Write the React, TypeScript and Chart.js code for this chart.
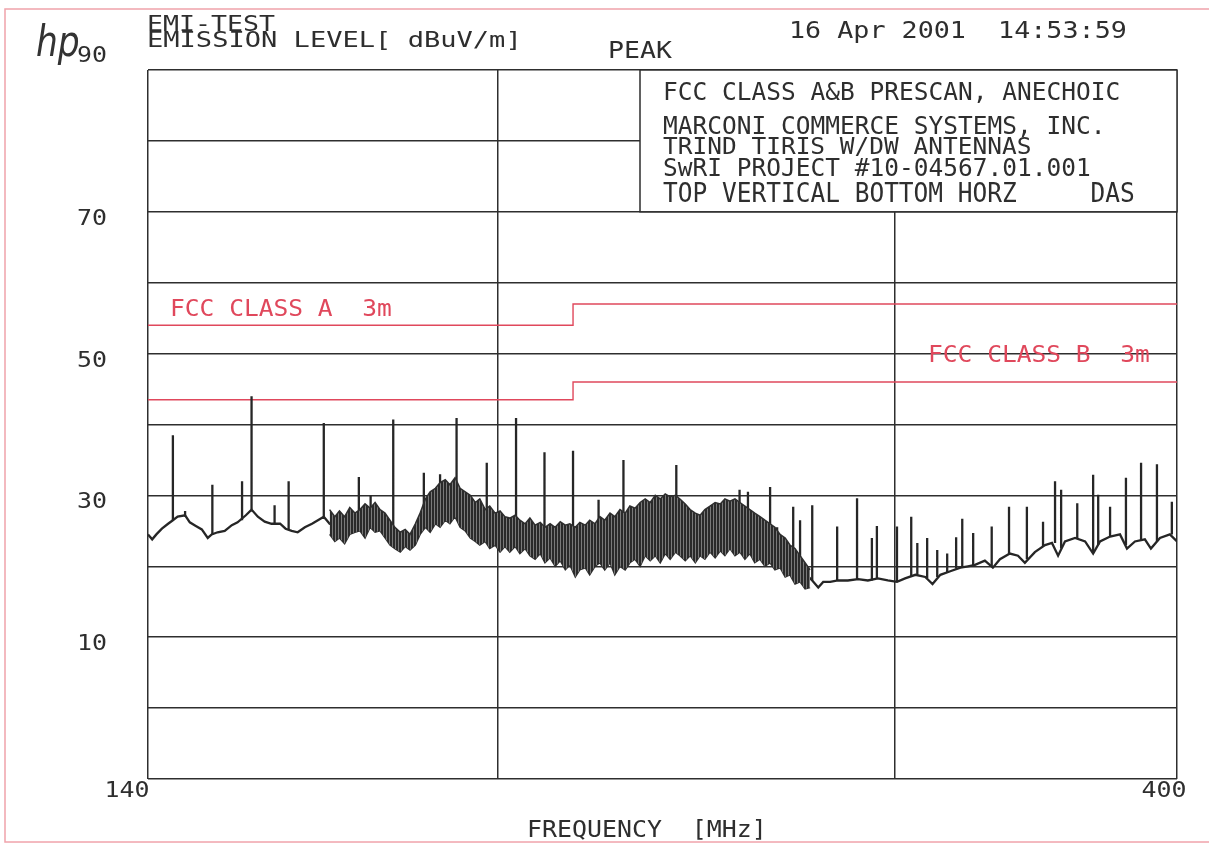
import { useEffect, useRef } from "react";
import { Chart, registerables } from "chart.js";

Chart.register(...registerables);

// ---- measured trace (MHz, dBuV/m) ----
const traceFreq = [
  140.0, 140.6, 141.2, 142.0, 142.9, 143.6, 144.3, 145.4, 146.1, 147.0, 147.9, 148.8, 149.4, 150.3, 151.4,
  152.5, 153.4, 154.7, 155.6, 156.6, 157.7, 158.8, 160.2, 161.1, 162.1, 163.1, 164.3, 165.5, 166.5, 167.5,
  168.5, 170.2, 172.0, 173.4, 174.7, 175.7, 177.0, 178.3, 179.4, 180.7, 181.8, 182.8, 183.9, 185.0, 186.7,
  188.6, 190.5, 191.8, 192.9, 194.5, 196.0, 197.8, 199.5, 201.5, 203.6, 205.7, 207.8, 209.8, 211.0, 213.2,
  215.3, 217.5, 219.7, 221.5, 223.1, 225.4, 227.8, 230.1, 232.5, 234.9, 237.3, 239.8, 242.2, 244.7, 247.1,
  249.7, 252.2, 254.8, 257.4, 260.0, 262.7, 265.4, 268.2, 270.9, 273.7, 275.7, 277.4, 278.8, 280.8, 283.0,
  285.9, 288.9, 291.8, 294.8, 297.8, 300.6, 303.1, 306.3, 309.4, 311.7, 314.2, 317.4, 320.7, 323.2, 325.5,
  328.8, 331.5, 333.9, 337.3, 340.1, 342.5, 346.0, 349.6, 352.1, 354.3, 356.8, 360.5, 364.2, 367.2, 369.8,
  373.6, 377.4, 380.1, 383.2, 387.1, 389.5, 393.1, 397.1, 400.0,
];
const traceLevel = [
  24.5, 23.8, 24.5, 25.3, 26.0, 26.5, 27.0, 27.2, 26.2, 25.7, 25.2, 24.0, 24.5, 24.8, 25.0,
  25.8, 26.2, 27.2, 28.0, 27.0, 26.3, 26.0, 26.0, 25.3, 25.0, 24.8, 25.5, 26.0, 26.5, 27.0,
  26.0, 25.5, 26.0, 26.5, 27.0, 27.8, 27.2, 26.3, 25.0, 23.5, 22.8, 23.5, 24.5, 26.5, 28.5,
  29.5, 30.5, 30.5, 29.0, 27.5, 26.5, 26.0, 25.5, 25.0, 25.0, 24.5, 24.0, 24.0, 24.0, 23.8,
  23.5, 23.5, 24.0, 24.0, 24.5, 25.0, 25.5, 25.8, 26.3, 26.5, 26.8, 27.0, 26.5, 25.5, 25.0,
  25.5, 26.0, 26.0, 25.5, 24.5, 23.5, 22.5, 21.0, 20.0, 19.0, 18.0, 17.0, 17.8, 17.8, 18.0,
  18.0, 18.2, 18.0, 18.3, 18.0, 17.8, 18.3, 18.8, 18.5, 17.5, 18.8, 19.3, 19.8, 20.0, 20.2,
  20.8, 19.8, 21.0, 21.8, 21.5, 20.5, 22.0, 23.0, 23.3, 21.5, 23.5, 24.0, 23.5, 21.8, 23.5,
  24.2, 24.5, 22.5, 23.5, 23.8, 22.5, 24.0, 24.5, 23.5,
];

// ---- dense noise band (upper / lower envelope of the hatched region) ----
const bandFreq = [
  168.5, 169.4, 170.2, 171.1, 172.0, 172.9, 173.8, 174.7, 175.6, 176.5, 177.4, 178.3, 179.2, 180.1, 181.1,
  182.0, 182.9, 183.9, 184.8, 185.8, 186.7, 187.7, 188.6, 189.6, 190.5, 191.5, 192.5, 193.5, 194.5, 195.5,
  196.4, 197.5, 198.4, 199.5, 200.5, 201.5, 202.5, 203.6, 204.6, 205.7, 206.7, 207.8, 208.9, 209.9, 211.0,
  212.1, 213.2, 214.3, 215.3, 216.5, 217.5, 218.7, 219.7, 220.9, 222.0, 223.1, 224.3, 225.4, 226.6, 227.8,
  228.9, 230.1, 231.3, 232.5, 233.7, 234.9, 236.1, 237.3, 238.5, 239.8, 240.9, 242.2, 243.4, 244.7, 245.9,
  247.1, 248.4, 249.7, 251.0, 252.2, 253.5, 254.8, 256.1, 257.4, 258.7, 260.0, 261.4, 262.7, 264.1, 265.4,
  266.8, 268.2, 269.5, 270.9, 272.3, 273.7, 275.1,
];
const bandLow = [
  24.5, 23.5, 24.0, 23.2, 24.5, 24.8, 25.0, 24.0, 25.5, 24.8, 25.0, 24.0, 23.0, 22.5, 22.0,
  22.8, 22.3, 23.0, 24.5, 25.5, 24.8, 26.0, 25.5, 26.5, 26.0, 27.0, 25.5, 25.0, 24.0, 23.5,
  23.0, 23.5, 22.5, 23.0, 22.0, 22.8, 22.0, 22.8, 21.8, 22.5, 21.5, 21.0, 21.8, 20.5, 21.2,
  20.0, 20.8, 19.5, 20.2, 18.5, 19.5, 19.8, 18.8, 20.0, 20.5, 19.5, 20.5, 18.8, 20.0, 19.5,
  20.5, 21.0, 20.0, 21.5, 20.8, 21.5, 20.5, 21.8, 21.0, 22.0, 21.5, 20.8, 21.5, 20.5, 21.5,
  21.0, 22.0, 21.2, 22.2, 21.5, 22.5, 21.5, 22.0, 21.0, 21.8, 20.5, 21.0, 20.0, 20.5, 19.5,
  19.8, 18.5, 18.8, 17.5, 17.8, 16.8, 17.0,
];
const bandHigh = [
  28.0, 27.0, 27.8, 27.0, 28.3, 27.5, 28.0, 28.8, 28.2, 29.0, 28.0, 27.5, 26.5, 25.5, 24.8,
  25.2, 24.5, 26.0, 27.5, 29.5, 30.5, 31.0, 31.8, 32.2, 31.5, 32.5, 31.0, 30.5, 30.0, 29.0,
  29.5, 28.0, 28.5, 27.5, 27.8, 27.0, 26.8, 27.2, 26.5, 26.0, 26.8, 25.8, 26.2, 25.5, 26.0,
  25.5, 26.3, 25.8, 26.0, 25.5, 26.2, 25.8, 26.5, 26.0, 27.0, 26.5, 27.5, 27.0, 28.0, 27.5,
  28.5, 28.2, 29.0, 29.5, 29.0, 30.0, 29.5, 30.2, 29.8, 30.0, 29.5, 28.8, 28.0, 27.5, 27.2,
  28.0, 28.5, 29.0, 28.8, 29.5, 29.2, 29.5, 29.0, 28.5, 28.0, 27.5, 27.0, 26.5, 26.0, 25.5,
  24.5, 24.0, 23.0, 22.5, 21.5, 20.5, 19.5,
];

// ---- narrow-band spikes ----
const spikeFreq = [
  143.6, 145.4, 149.5, 154.1, 155.6, 159.3, 161.6, 167.5, 173.6, 175.7, 179.8, 185.5, 188.6, 191.8, 197.8,
  203.8, 209.8, 216.0, 221.7, 227.4, 240.0, 256.0, 258.2, 264.1, 266.0, 270.4, 272.3, 275.7, 282.8, 288.6,
  293.0, 294.5, 300.6, 305.0, 306.9, 310.0, 313.2, 316.4, 319.3, 321.3, 324.9, 331.1, 337.0, 343.2, 348.9,
  353.2, 355.4, 361.3, 367.2, 369.1, 373.6, 379.7, 385.6, 391.9, 397.9,
];
const spikeBase = [
  26.5, 27.0, 24.5, 26.5, 28.0, 26.0, 25.2, 27.0, 26.5, 27.8, 24.5, 27.0, 29.5, 30.5, 26.0,
  25.0, 24.0, 23.5, 24.0, 25.5, 27.0, 25.5, 25.5, 23.0, 22.3, 20.2, 19.5, 18.0, 18.0, 18.2,
  18.0, 18.2, 17.8, 18.5, 18.8, 18.3, 18.5, 19.2, 19.7, 19.8, 20.1, 20.0, 21.7, 21.0, 22.8,
  23.3, 22.5, 24.0, 22.0, 23.0, 24.2, 23.0, 23.6, 23.5, 24.5,
];
const spikeLevel = [
  38.5, 27.8, 31.5, 32.0, 44.0, 28.6, 32.0, 40.2, 32.6, 30.0, 40.7, 33.2, 33.0, 40.9, 34.6,
  40.9, 36.1, 36.3, 29.4, 35.0, 34.3, 30.8, 30.5, 31.2, 25.5, 28.4, 26.5, 28.6, 25.6, 29.6,
  24.0, 25.7, 25.6, 27.0, 23.3, 24.0, 22.3, 21.8, 24.1, 26.7, 24.7, 25.6, 28.4, 28.4, 26.3,
  32.0, 30.8, 28.9, 32.9, 30.1, 28.4, 32.5, 34.6, 34.4, 29.1,
];

// ---- FCC limit lines ----
const classAFreq = [140, 216, 216, 400];
const classALevel = [54, 54, 57, 57];
const classBFreq = [140, 216, 216, 400];
const classBLevel = [43.5, 43.5, 46, 46];

// ---- axis ----
const yMin = -10;
const yMax = 90;
const yTickLabels = [90, 70, 50, 30, 10];
const xMin = 140;
const xMax = 400;
const xGridFreqs = [140, 200, 300, 400];
const xTickLabels = [140, 400];

const headerLines = ["EMI-TEST", "EMISSION LEVEL[ dBuV/m]"];
const modeText = "PEAK";
const dateText = "16 Apr 2001  14:53:59";
const boxLines = [
  "FCC CLASS A&B PRESCAN, ANECHOIC",
  "MARCONI COMMERCE SYSTEMS, INC.",
  "TRIND TIRIS W/DW ANTENNAS",
  "SwRI PROJECT #10-04567.01.001",
  "TOP VERTICAL BOTTOM HORZ     DAS",
];
const classALabel = "FCC CLASS A  3m";
const classBLabel = "FCC CLASS B  3m";
const xTitle = "FREQUENCY  [MHz]";

const INK = "#2e2e2e";
const RED = "#e0485c";
const MONO = "'DejaVu Sans Mono', 'Liberation Mono', monospace";

function drawMono(
  ctx: CanvasRenderingContext2D,
  text: string,
  x: number,
  baseline: number,
  cap: number,
  advance: number,
  color: string,
  align: CanvasTextAlign = "left"
) {
  const size = cap / 0.729;
  const natural = 0.602 * size;
  const sx = advance / natural;
  ctx.save();
  ctx.translate(x, baseline);
  ctx.scale(sx, 1);
  ctx.font = `${size}px ${MONO}`;
  ctx.fillStyle = color;
  ctx.textAlign = align;
  ctx.textBaseline = "alphabetic";
  ctx.fillText(text, 0, 0);
  ctx.restore();
}

const decorPlugin = {
  id: "decor",
  beforeDraw(chart: any) {
    const { ctx, width, height } = chart;
    ctx.save();
    ctx.fillStyle = "#ffffff";
    ctx.fillRect(0, 0, width, height);
    ctx.strokeStyle = "#f0a3ab";
    ctx.lineWidth = 1.5;
    ctx.strokeRect(5, 9, width - 4, height - 13);
    ctx.restore();
  },
  afterDatasetsDraw(chart: any) {
    const { ctx, chartArea } = chart;
    const xs = chart.scales.x;
    const ys = chart.scales.y;
    ctx.save();
    // annotation box (top-right)
    const bx = 640;
    const by = ys.getPixelForValue(90);
    const bb = ys.getPixelForValue(70);
    ctx.fillStyle = "#ffffff";
    ctx.fillRect(bx, by, chartArea.right - bx, bb - by);
    ctx.strokeStyle = INK;
    ctx.lineWidth = 1.5;
    ctx.strokeRect(bx, by, chartArea.right - bx, bb - by);
    drawMono(ctx, boxLines[0], 663, 100, 18, 14.75, INK);
    drawMono(ctx, boxLines[1], 663, 134, 18, 14.75, INK);
    drawMono(ctx, boxLines[2], 663, 154, 17, 14.75, INK);
    drawMono(ctx, boxLines[3], 663, 176, 18, 14.75, INK);
    drawMono(ctx, boxLines[4], 663, 202, 19, 14.75, INK);

    // header
    drawMono(ctx, headerLines[0], 147, 31, 15, 16, INK);
    drawMono(ctx, headerLines[1], 147, 47, 15, 16.3, INK);
    drawMono(ctx, modeText, 608, 58, 17, 16, INK);
    drawMono(ctx, dateText, 789, 38, 17, 16.1, INK);

    // hp logo
    ctx.save();
    ctx.translate(36, 56);
    ctx.scale(0.82, 1);
    ctx.font = "italic 200 42px 'DejaVu Sans', sans-serif";
    ctx.fillStyle = "#333";
    ctx.textAlign = "left";
    ctx.fillText("hp", 0, 0);
    ctx.restore();

    // y tick labels
    yTickLabels.forEach((v) => {
      const py = ys.getPixelForValue(v);
      const base = v === 90 ? 62 : py + 13;
      drawMono(ctx, String(v), 92, base, 15, 15, INK, "center");
    });
    // x tick labels
    xTickLabels.forEach((v, i) => {
      const px = xs.getPixelForValue(v);
      drawMono(ctx, String(v), px + (i === 0 ? -21 : -13), 797, 16, 15, INK, "center");
    });
    drawMono(ctx, xTitle, 527, 837, 17, 15, INK);

    // limit line labels
    drawMono(ctx, classALabel, 170, 316, 17, 14.8, RED);
    drawMono(ctx, classBLabel, 928, 362, 17, 14.8, RED);
    ctx.restore();
  },
};

export default function App() {
  const ref = useRef<HTMLCanvasElement | null>(null);

  useEffect(() => {
    if (!ref.current) return;
    const pc = document.createElement("canvas");
    pc.width = 3;
    pc.height = 4;
    const pctx = pc.getContext("2d")!;
    pctx.fillStyle = "#7a7a7a";
    pctx.fillRect(0, 0, 3, 4);
    pctx.fillStyle = "#2a2a2a";
    pctx.fillRect(0, 0, 2, 4);
    const pattern = ref.current.getContext("2d")!.createPattern(pc, "repeat");

    const spikeData: any[] = [];
    spikeFreq.forEach((f, i) => {
      spikeData.push({ x: f, y: spikeBase[i] });
      spikeData.push({ x: f, y: spikeLevel[i] });
      spikeData.push({ x: f, y: null });
    });

    const chart = new Chart(ref.current, {
      type: "line",
      data: {
        datasets: [
          {
            data: bandFreq.map((f, i) => ({ x: f, y: bandHigh[i] })),
            borderColor: "#2e2e2e",
            borderWidth: 1.5,
            pointRadius: 0,
            fill: "+1",
            backgroundColor: pattern as any,
          },
          {
            data: bandFreq.map((f, i) => ({ x: f, y: bandLow[i] })),
            borderColor: "#2e2e2e",
            borderWidth: 1.5,
            pointRadius: 0,
            fill: false,
          },
          {
            data: traceFreq.map((f, i) => ({ x: f, y: traceLevel[i] })),
            borderColor: "#262626",
            borderWidth: 2.3,
            pointRadius: 0,
            fill: false,
          },
          {
            data: spikeData,
            borderColor: "#262626",
            borderWidth: 2.3,
            pointRadius: 0,
            fill: false,
            spanGaps: false,
          },
          {
            data: classAFreq.map((f, i) => ({ x: f, y: classALevel[i] })),
            borderColor: RED,
            borderWidth: 1.4,
            pointRadius: 0,
            fill: false,
          },
          {
            data: classBFreq.map((f, i) => ({ x: f, y: classBLevel[i] })),
            borderColor: RED,
            borderWidth: 1.4,
            pointRadius: 0,
            fill: false,
          },
        ],
      },
      options: {
        responsive: false,
        animation: false,
        events: [],
        layout: { padding: { left: 148, top: 70, right: 32, bottom: 67 } },
        plugins: { legend: { display: false }, tooltip: { enabled: false } },
        elements: { line: { tension: 0 } },
        scales: {
          x: {
            type: "logarithmic",
            min: xMin,
            max: xMax,
            afterBuildTicks: (s: any) => {
              s.ticks = xGridFreqs.map((v) => ({ value: v }));
            },
            ticks: { display: false },
            grid: { color: INK, lineWidth: 1.5, drawTicks: false },
            border: { display: false },
          },
          y: {
            type: "linear",
            min: yMin,
            max: yMax,
            ticks: { display: false, stepSize: 10 },
            grid: { color: INK, lineWidth: 1.5, drawTicks: false },
            border: { display: false },
          },
        },
      } as any,
      plugins: [decorPlugin],
    });
    return () => chart.destroy();
  }, []);

  return (
    <div style={{ position: "absolute", left: 0, top: 0, width: 1209, height: 846 }}>
      <canvas ref={ref} width={1209} height={846} style={{ display: "block" }} />
    </div>
  );
}
